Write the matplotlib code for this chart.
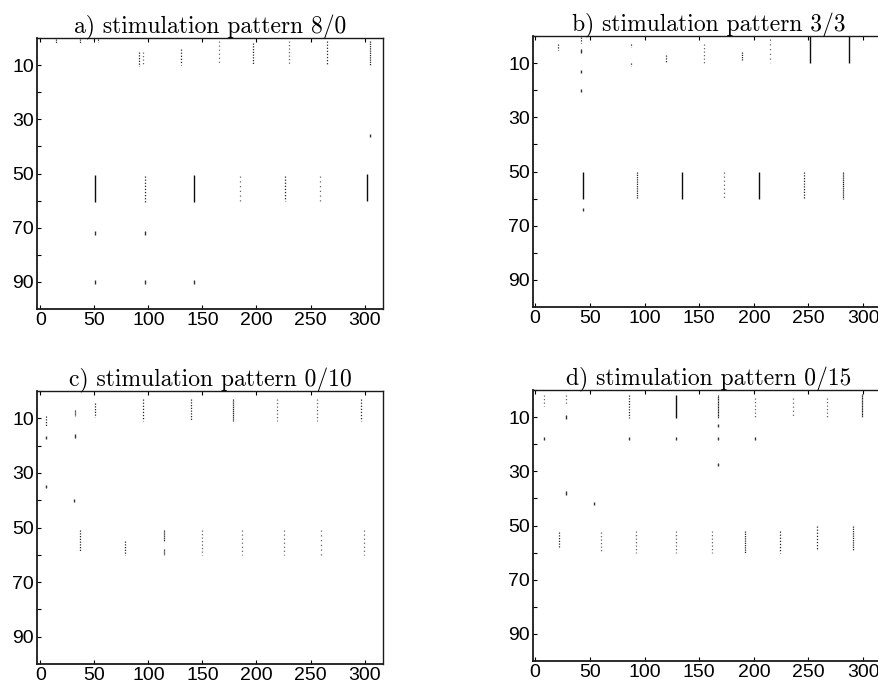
import numpy as np
import matplotlib
matplotlib.use("Agg")
import matplotlib.pyplot as plt

# spike columns per panel: (time, first neuron, last neuron, fraction of neurons firing)
cols_a = [(15, 0.5, 2, 0.6), (37, 0.5, 2, 0.6), (53, 0.5, 1.5, 0.5),
          (91, 5, 10.5, 0.5), (95, 5, 10.5, 0.4), (130, 4, 10, 0.45),
          (165, 1, 10, 0.35), (197, 2, 10, 0.5), (230, 1, 10, 0.4),
          (265, 1, 10, 0.45), (305, 1, 10, 0.6),
          (51, 50.5, 60.5, 1.0), (97, 51, 60.5, 0.45), (142, 50.5, 60.5, 1.0),
          (185, 51, 60.5, 0.3), (226, 51, 60, 0.45), (259, 51, 60, 0.3),
          (302, 50, 60, 1.0)]
dots_a_t = [305, 51, 97, 51, 97, 142]
dots_a_n = [36, 72, 72, 90, 90, 90]

cols_b = [(21, 3, 5, 0.5), (42, 0.5, 2.5, 0.5), (88, 3, 4, 0.5), (88, 10, 11, 0.5),
          (120, 7, 10, 0.5), (154, 3, 10, 0.4), (189, 6, 9, 0.6),
          (215, 1, 10, 0.3), (251, 0, 10, 1.0), (287, 0, 10, 1.0),
          (44, 50, 60, 1.0), (93, 50, 60, 0.6), (134, 50, 60, 1.0),
          (173, 50, 60, 0.35), (205, 50, 60, 1.0), (246, 50, 60, 0.5),
          (282, 50, 60, 0.7)]
dots_b_t = [42, 42, 42]
dots_b_n = [5.5, 13, 20]
dots_b_t2 = [44]
dots_b_n2 = [64]

cols_c = [(5.5, 9, 13, 0.5), (32, 7, 9, 0.7), (51, 4.5, 9.5, 0.5),
          (95, 3, 11, 0.45), (139, 3, 11, 0.5), (178, 3, 11, 0.7),
          (219, 3, 11, 0.4), (256, 3, 11, 0.4), (297, 3, 11, 0.45),
          (37, 51, 59, 0.5), (78, 55, 60, 0.5), (114, 51, 55, 0.7),
          (114, 58, 60, 0.7), (150, 51, 60, 0.4), (187, 51, 60, 0.35),
          (225, 51, 60, 0.35), (260, 51, 60, 0.3), (299, 51, 60, 0.35)]
dots_c_t = [5.5, 5.5, 32, 31]
dots_c_n = [17, 35, 16.5, 40]

cols_d = [(8, 2, 6, 0.4), (28, 2, 5, 0.4), (86, 2, 10.5, 0.5),
          (129, 2, 10.5, 0.9), (167, 2, 10.5, 0.8), (201, 3, 10, 0.4),
          (236, 3, 10, 0.35), (267, 3, 10, 0.4), (299, 1.5, 10, 0.8),
          (22, 52.5, 58, 0.5), (60, 52.5, 60, 0.4), (92, 52, 60, 0.4),
          (129, 52, 60, 0.4), (162, 52, 60, 0.4), (191.5, 52, 60, 0.6),
          (224, 52, 60, 0.45), (258, 50, 59, 0.45), (291, 50, 59, 0.6)]
dots_d_t = [8, 28, 28, 86, 129, 167, 167, 167, 201, 54]
dots_d_n = [18, 10, 38, 18, 18, 13, 18, 27.6, 18, 42]

titles = ["a) stimulation pattern 8/0", "b) stimulation pattern 3/3",
          "c) stimulation pattern 0/10", "d) stimulation pattern 0/15"]
x_ticks = [0, 50, 100, 150, 200, 250, 300]
y_ticks = [10, 30, 50, 70, 90]
y_minor = [0, 20, 40, 60, 80]

W, H = 879, 684
fig = plt.figure(figsize=(W / 100, H / 100), dpi=100)

# axes boxes in pixels: left, top, right, bottom, and x range shown
boxes = [(37, 38, 383, 309), (533, 36, 885, 307),
         (37, 391, 383, 664), (533, 390, 885, 661)]
xlims = [(-3, 317), (-2, 320), (-3, 317), (-2, 320)]
panels = [(cols_a, [(dots_a_t, dots_a_n)]),
          (cols_b, [(dots_b_t, dots_b_n), (dots_b_t2, dots_b_n2)]),
          (cols_c, [(dots_c_t, dots_c_n)]),
          (cols_d, [(dots_d_t, dots_d_n)])]


def draw_columns(ax, cols):
    for t, lo, hi, frac in cols:
        if frac >= 0.85:
            ax.vlines(t, lo, hi, color="0.05", lw=1.0)
        else:
            gap = 1.2 * (1.0 / frac - 1.0)
            col = "0.15" if frac >= 0.45 else "0.4"
            ax.vlines(t, lo, hi, color=col, lw=0.9,
                      linestyles=[(0, (1.0, gap))])


for i, (l, t, r, b) in enumerate(boxes):
    ax = fig.add_axes([l / W, 1 - b / H, (r - l) / W, (b - t) / H])
    cols, dots = panels[i]
    draw_columns(ax, cols)
    for dt, dn in dots:
        ax.vlines(dt, np.array(dn) - 0.6, np.array(dn) + 0.6, color="0.2", lw=1.0)
    ax.set_xlim(*xlims[i])
    ax.set_ylim(100, 0)
    ax.set_xticks(x_ticks)
    ax.set_yticks(y_ticks)
    ax.set_yticks(y_minor, minor=True)
    ax.tick_params(direction="in", length=3, width=0.8, labelsize=14,
                   pad=2, top=True)
    ax.tick_params(which="minor", direction="in", length=3, width=0.8)
    for lab in ax.get_xticklabels() + ax.get_yticklabels():
        lab.set_fontfamily("Liberation Sans")
    for side, s in ax.spines.items():
        s.set_linewidth(1.3 if side in ("left", "bottom") else 1.0)
        s.set_color("0.1")
    ax.set_title(titles[i], fontfamily="cmr10", fontsize=17, pad=3)

fig.savefig("out.png", dpi=100)
